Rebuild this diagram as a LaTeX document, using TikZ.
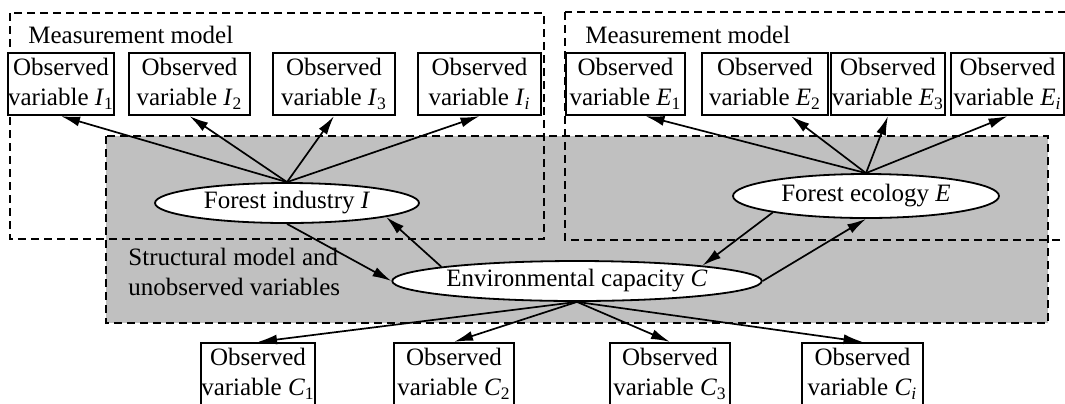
\documentclass[tikz,border=0pt]{standalone}
\usepackage{fontspec}
\setmainfont{Liberation Serif}
\definecolor{PanelGray}{RGB}{192, 192, 192}
\usetikzlibrary{
    arrows.meta,
    shapes.geometric,
    calc
    }
\tikzset{
    every node/.style={font=\fontsize{12.5}{15}\selectfont},
    obsbox/.style={draw=black, line width=1.1pt, fill=white, inner sep=0pt, minimum height=31pt, align=center},
    latent/.style={ellipse, draw=black, line width=0.9pt, fill=white, inner sep=0pt},
    dashframe/.style={draw=black, dash pattern=on 4pt off 2.5pt, line width=1pt},
    link/.style={-{Latex[length=9.5pt, width=5pt]}, line width=0.85pt}
}

\begin{document}
\begin{tikzpicture}[x=0.5pt, y=-0.5pt]
    \useasboundingbox (0,0) rectangle (1065,403);

    %Frames
    \draw[dashframe, fill=PanelGray] (106,136) rectangle (1048,323);
    \draw[dashframe] (10,13) rectangle (544,239);
    \draw[dashframe] (565,12) rectangle (1075,240);
    \node[anchor=base west, inner sep=0pt] (mmI) at (28,43) {Measurement model};
    \node[anchor=base west, inner sep=0pt] (mmE) at (585,43) {Measurement model};
    \node[anchor=north west, align=left, inner sep=0pt] (smodel) at (128,248) {Structural model and\\unobserved variables};

    %Latent variables
    \node[latent, minimum width=132pt, minimum height=20pt] (I) at (287,203) {Forest industry \textit{I}};
    \node[latent, minimum width=133pt, minimum height=22pt] (E) at (866,196) {Forest ecology \textit{E}};
    \node[latent, minimum width=181pt, minimum height=20pt] (C) at (577,281) {Environmental capacity \textit{C}};

    %Industry
    \node[obsbox, minimum width=51pt] (I1) at (61,84) {Observed\\variable \textit{I}\textsubscript{1}};
    \node[obsbox, minimum width=60.5pt] (I2) at (189.5,84) {Observed\\variable \textit{I}\textsubscript{2}};
    \node[obsbox, minimum width=61pt] (I3) at (334,84) {Observed\\variable \textit{I}\textsubscript{3}};
    \node[obsbox, minimum width=61.5pt] (Ii) at (479.5,84) {Observed\\variable \textit{I}\textsubscript{\textit{i}}};
    \foreach \b in {I1,I2,I3,Ii}
        \draw[link] (I.north) -- (\b.south);

    %Ecology
    \node[obsbox, minimum width=59.5pt] (E1) at (625.5,84) {Observed\\variable \textit{E}\textsubscript{1}};
    \node[obsbox, minimum width=63pt] (E2) at (765,84) {Observed\\variable \textit{E}\textsubscript{2}};
    \node[obsbox, minimum width=57pt] (E3) at (888,84) {Observed\\variable \textit{E}\textsubscript{3}};
    \node[obsbox, minimum width=56.5pt] (Ei) at (1007.5,84) {Observed\\variable \textit{E}\textsubscript{\textit{i}}};
    \draw[link] (E.north) -- ([xshift=10pt]E1.south);
    \draw[link] (E.north) -- ([xshift=13pt]E2.south);
    \draw[link] (E.north) -- (E3.south);
    \draw[link] (E.north) -- (Ei.south);

    %Capacity
    \node[obsbox, minimum width=56pt] (C1) at (258,374) {Observed\\variable \textit{C}\textsubscript{1}};
    \node[obsbox, minimum width=60pt] (C2) at (454,374) {Observed\\variable \textit{C}\textsubscript{2}};
    \node[obsbox, minimum width=60pt] (C3) at (670,374) {Observed\\variable \textit{C}\textsubscript{3}};
    \node[obsbox, minimum width=60.5pt] (Ci) at (862.5,374) {Observed\\variable \textit{C}\textsubscript{\textit{i}}};
    \foreach \b in {C1,C2,C3,Ci}
        \draw[link] (C.south) -- (\b.north);

    %Structural paths
    \draw[link] (I.south) -- (C.west);
    \draw[link] (C.174) -- (I.-8);
    \draw[link] (E.190) -- (C.7);
    \draw[link] (C.east) -- (E.south);

\end{tikzpicture}
\end{document}
